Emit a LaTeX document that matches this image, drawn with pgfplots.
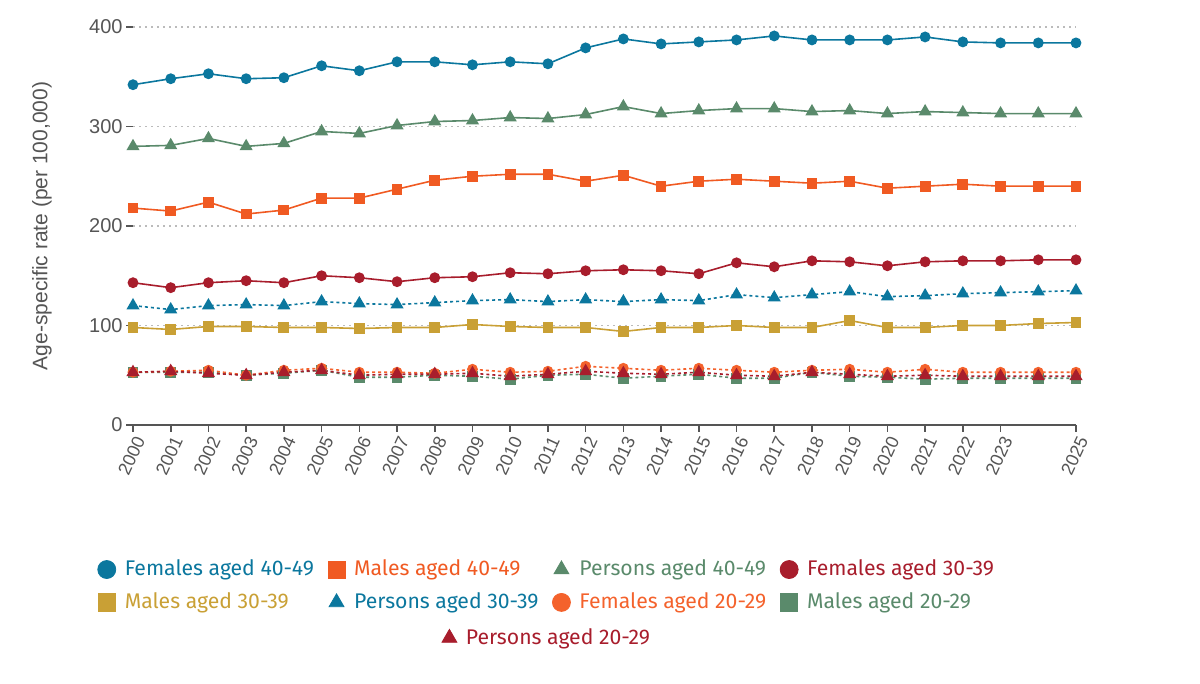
\documentclass[border=0pt]{standalone}
\usepackage{fontspec}
\setmainfont{Fira Sans}
\newfontfamily\tickfont{Liberation Sans}
\usepackage{pgfplots}
\pgfplotsset{compat=1.18}
\definecolor{cblue}{HTML}{0B779E}
\definecolor{corange}{HTML}{F05A22}
\definecolor{corange2}{HTML}{F4622C}
\definecolor{cgreen}{HTML}{5A8A6B}
\definecolor{cred}{HTML}{A81D2C}
\definecolor{cgold}{HTML}{C9A035}
\definecolor{axgray}{HTML}{555555}
\definecolor{labgray}{HTML}{555555}
\definecolor{gridgray}{HTML}{BBBBBB}
\begin{document}
\begin{tikzpicture}
\path[use as bounding box] (0,0) rectangle (600pt,342pt);
\begin{axis}[
  at={(66.5pt,129.5pt)}, anchor=south west,
  scale only axis, width=471.5pt, height=199pt,
  xmin=2000, xmax=2025, ymin=0, ymax=400,
  clip=false,
  axis x line=bottom, axis y line=left,
  x axis line style={-, draw=axgray, line width=0.8pt, shorten <=-3.5pt},
  y axis line style={draw=none},
  xtick={2000,2001,2002,2003,2004,2005,2006,2007,2008,2009,2010,2011,2012,2013,2014,2015,2016,2017,2018,2019,2020,2021,2022,2023,2025},
  ytick={0,100,200,300,400},
  ymajorgrids, grid style={gridgray, line width=0.6pt, dash pattern=on 1pt off 2pt},
  tick align=outside, major tick length=3.5pt,
  tick style={axgray, line width=0.8pt},
  /pgf/number format/1000 sep={},
  /pgf/number format/assume math mode=true,
  yticklabel style={font=\tickfont\fontsize{10}{12}\selectfont, text=labgray, inner sep=1.5pt},
  xticklabel style={font=\tickfont\fontsize{9}{11}\selectfont, text=labgray, rotate=65, anchor=north east, inner sep=1pt},
  legend columns=4,
  legend style={at={(0.44,-0.4045)}, anchor=center, draw=none, fill=none,
    font=\fontsize{10.6}{12}\selectfont, row sep=3pt,
    /tikz/every odd column/.append style={column sep=2.5pt},
    /tikz/every even column/.append style={column sep=5pt}},
  legend cell align=left,
  legend image code/.code={\draw[#1] plot coordinates {(0pt,0pt)};},
]
% Females 40-49
\addplot[cblue, line width=0.8pt, mark=*, mark size=2.3pt, forget plot] coordinates {
(2000,342)(2001,348)(2002,353)(2003,348)(2004,349)(2005,361)(2006,356)(2007,365)(2008,365)(2009,362)(2010,365)(2011,363)(2012,379)
(2013,388)(2014,383)(2015,385)(2016,387)(2017,391)(2018,387)(2019,387)(2020,387)(2021,390)(2022,385)(2023,384)(2024,384)(2025,384)};
% Males 40-49
\addplot[corange, line width=0.8pt, mark=square*, mark size=2.3pt, forget plot] coordinates {
(2000,218)(2001,215)(2002,224)(2003,212)(2004,216)(2005,228)(2006,228)(2007,237)(2008,246)(2009,250)(2010,252)(2011,252)(2012,245)
(2013,251)(2014,240)(2015,245)(2016,247)(2017,245)(2018,243)(2019,245)(2020,238)(2021,240)(2022,242)(2023,240)(2024,240)(2025,240)};
% Persons 40-49
\addplot[cgreen, line width=0.8pt, mark=triangle*, mark size=3pt, forget plot] coordinates {
(2000,280)(2001,281)(2002,288)(2003,280)(2004,283)(2005,295)(2006,293)(2007,301)(2008,305)(2009,306)(2010,309)(2011,308)(2012,312)
(2013,320)(2014,313)(2015,316)(2016,318)(2017,318)(2018,315)(2019,316)(2020,313)(2021,315)(2022,314)(2023,313)(2024,313)(2025,313)};
% Females 30-39
\addplot[cred, line width=0.8pt, mark=*, mark size=2.3pt, forget plot] coordinates {
(2000,143)(2001,138)(2002,143)(2003,145)(2004,143)(2005,150)(2006,148)(2007,144)(2008,148)(2009,149)(2010,153)(2011,152)(2012,155)
(2013,156)(2014,155)(2015,152)(2016,163)(2017,159)(2018,165)(2019,164)(2020,160)(2021,164)(2022,165)(2023,165)(2024,166)(2025,166)};
% Males 30-39
\addplot[cgold, line width=0.8pt, mark=square*, mark size=2.3pt, forget plot] coordinates {
(2000,98)(2001,96)(2002,99)(2003,99)(2004,98)(2005,98)(2006,97)(2007,98)(2008,98)(2009,101)(2010,99)(2011,98)(2012,98)
(2013,94)(2014,98)(2015,98)(2016,100)(2017,98)(2018,98)(2019,105)(2020,98)(2021,98)(2022,100)(2023,100)(2024,102)(2025,103)};
% Persons 30-39
\addplot[cblue, line width=0.8pt, dash pattern=on 1.5pt off 1.5pt, mark=triangle*, mark size=3pt, mark options={solid}, forget plot] coordinates {
(2000,120)(2001,116)(2002,120)(2003,121)(2004,120)(2005,124)(2006,122)(2007,121)(2008,123)(2009,125)(2010,126)(2011,124)(2012,126)
(2013,124)(2014,126)(2015,125)(2016,131)(2017,128)(2018,131)(2019,134)(2020,129)(2021,130)(2022,132)(2023,133)(2024,134)(2025,135)};
% Males 20-29
\addplot[cgreen, line width=0.8pt, dash pattern=on 1.5pt off 1.5pt, mark=square*, mark size=2.3pt, mark options={solid}, forget plot] coordinates {
(2000,53)(2001,53)(2002,53)(2003,50)(2004,52)(2005,55)(2006,48)(2007,48)(2008,50)(2009,49)(2010,46)(2011,50)(2012,51)
(2013,47)(2014,49)(2015,51)(2016,47)(2017,47)(2018,53)(2019,49)(2020,48)(2021,46)(2022,47)(2023,47)(2024,47)(2025,47)};
% Females 20-29
\addplot[corange2, line width=0.8pt, dash pattern=on 1.5pt off 1.5pt, mark=*, mark size=2.3pt, mark options={solid}, forget plot] coordinates {
(2000,53)(2001,54)(2002,55)(2003,50)(2004,55)(2005,57)(2006,53)(2007,53)(2008,52)(2009,56)(2010,53)(2011,54)(2012,59)
(2013,57)(2014,55)(2015,57)(2016,55)(2017,53)(2018,55)(2019,56)(2020,53)(2021,56)(2022,53)(2023,53)(2024,53)(2025,53)};
% Persons 20-29
\addplot[cred, line width=0.8pt, dash pattern=on 1.5pt off 1.5pt, mark=triangle*, mark size=3pt, mark options={solid}, forget plot] coordinates {
(2000,53)(2001,54)(2002,52)(2003,50)(2004,53)(2005,55)(2006,50)(2007,51)(2008,51)(2009,52)(2010,49)(2011,51)(2012,54)
(2013,52)(2014,51)(2015,53)(2016,50)(2017,49)(2018,53)(2019,51)(2020,49)(2021,50)(2022,49)(2023,49)(2024,49)(2025,49)};
% legend
\addlegendimage{only marks, cblue, mark=*, mark size=4.5pt}
\addlegendentry{\textcolor{cblue}{Females aged 40-49}}
\addlegendimage{only marks, corange, mark=square*, mark size=4.3pt}
\addlegendentry{\textcolor{corange}{Males aged 40-49}}
\addlegendimage{only marks, cgreen, mark=triangle*, mark size=4.3pt}
\addlegendentry{\textcolor{cgreen}{Persons aged 40-49}}
\addlegendimage{only marks, cred, mark=*, mark size=4.5pt}
\addlegendentry{\textcolor{cred}{Females aged 30-39}}
\addlegendimage{only marks, cgold, mark=square*, mark size=4.3pt}
\addlegendentry{\textcolor{cgold}{Males aged 30-39}}
\addlegendimage{only marks, cblue, mark=triangle*, mark size=4.3pt}
\addlegendentry{\textcolor{cblue}{Persons aged 30-39}}
\addlegendimage{only marks, corange2, mark=*, mark size=4.5pt}
\addlegendentry{\textcolor{corange2}{Females aged 20-29}}
\addlegendimage{only marks, cgreen, mark=square*, mark size=4.3pt}
\addlegendentry{\textcolor{cgreen}{Males aged 20-29}}
\end{axis}
\begin{axis}[
  at={(274pt,23pt)}, anchor=center, hide axis,
  scale only axis, width=10pt, height=10pt,
  xmin=0, xmax=1, ymin=0, ymax=1,
  legend style={at={(0.5,0.5)}, anchor=center, draw=none, fill=none,
    font=\fontsize{10.6}{12}\selectfont,
    /tikz/every odd column/.append style={column sep=2.5pt}},
  legend image code/.code={\draw[#1] plot coordinates {(0pt,0pt)};},
]
\addlegendimage{only marks, cred, mark=triangle*, mark size=4.3pt}
\addlegendentry{\textcolor{cred}{Persons aged 20-29}}
\end{axis}
\node[rotate=90, font=\tickfont\fontsize{10.5}{12}\selectfont, text=labgray] at (21pt,229pt) {Age-specific rate (per 100,000)};
\end{tikzpicture}
\end{document}
